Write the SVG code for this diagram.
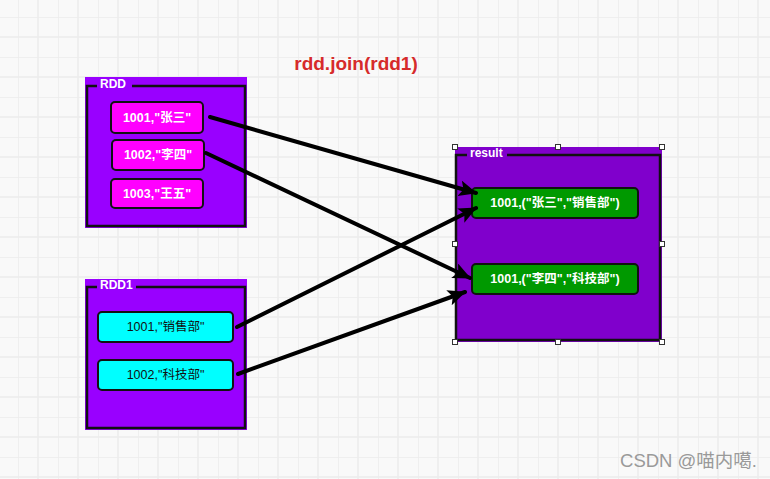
<svg xmlns="http://www.w3.org/2000/svg" width="770" height="479" viewBox="0 0 770 479">
<defs>
<pattern id="grid" x="18" y="17" width="40" height="40" patternUnits="userSpaceOnUse">
<path d="M0 0V40M20 0V40M0 0H40M0 20H40" stroke="#ececec" stroke-width="1.5" fill="none"/>
</pattern>
<marker id="ah" markerUnits="userSpaceOnUse" markerWidth="20" markerHeight="18" refX="17" refY="8" orient="auto">
<path d="M0 0L18 8L0 16L4 8Z" fill="#000"/>
</marker>
<style>
.frame{stroke:#111;stroke-width:2.5;fill:none}
.cap{font-family:"Liberation Sans",Arial,sans-serif;font-weight:bold;font-size:12px;fill:#fff}
.n{stroke:#111;stroke-width:2}
.t{font-family:"Liberation Sans","Noto Sans CJK SC",sans-serif;font-size:12.5px;text-anchor:middle;dominant-baseline:central}
.w{fill:#fff;font-weight:bold}
.k{fill:#111}
.edge{stroke:#000;stroke-width:4;fill:none;marker-end:url(#ah);stroke-linecap:round}
.h{fill:#fff;stroke:#333;stroke-width:1}
</style>
</defs>
<rect width="770" height="479" fill="#f9f9f9"/>
<rect width="770" height="479" fill="url(#grid)"/>

<text x="356" y="70" font-family="Liberation Sans,Arial,sans-serif" font-weight="bold" font-size="19" fill="#d62b2b" text-anchor="middle">rdd.join(rdd1)</text>

<g id="RDD">
<rect x="85" y="77" width="162" height="151" fill="#9900ff"/>
<path class="frame" d="M97 86H87V226H245V86H132"/>
<text class="cap" x="100" y="88">RDD</text>
</g>
<g id="rdd-1001">
<rect class="n" x="111" y="102" width="92" height="31" rx="4" fill="#ff00ff"/>
<text class="t w" x="157" y="117.5">1001,"张三"</text>
</g>
<g id="rdd-1002">
<rect class="n" x="112" y="140" width="92" height="30" rx="4" fill="#ff00ff"/>
<text class="t w" x="158" y="155">1002,"李四"</text>
</g>
<g id="rdd-1003">
<rect class="n" x="111" y="179" width="92" height="29" rx="4" fill="#ff00ff"/>
<text class="t w" x="157" y="193.5">1003,"王五"</text>
</g>

<g id="RDD1">
<rect x="85" y="279" width="162" height="151" fill="#9900ff"/>
<path class="frame" d="M97 287H87V428H245V287H136"/>
<text class="cap" x="100" y="289">RDD1</text>
</g>
<g id="rdd1-1001">
<rect class="n" x="98" y="312" width="135" height="30" rx="4" fill="#00ffff"/>
<text class="t k" x="165.5" y="327">1001,"销售部"</text>
</g>
<g id="rdd1-1002">
<rect class="n" x="98" y="360" width="135" height="30" rx="4" fill="#00ffff"/>
<text class="t k" x="165.5" y="375">1002,"科技部"</text>
</g>

<g id="result">
<rect x="455" y="147" width="207" height="195" fill="#8000cc"/>
<path class="frame" d="M467 155H456V340H660V155H507" stroke="#1a0a0a"/>
<text class="cap" x="470" y="157">result</text>
<rect class="h" x="452.5" y="144.5" width="5" height="5"/>
<rect class="h" x="555.5" y="144.5" width="5" height="5"/>
<rect class="h" x="659.5" y="144.5" width="5" height="5"/>
<rect class="h" x="452.5" y="241.5" width="5" height="5"/>
<rect class="h" x="659.5" y="241.5" width="5" height="5"/>
<rect class="h" x="452.5" y="339.5" width="5" height="5"/>
<rect class="h" x="555.5" y="339.5" width="5" height="5"/>
<rect class="h" x="659.5" y="339.5" width="5" height="5"/>
</g>
<g id="res-1">
<rect class="n" x="472" y="188" width="166" height="30" rx="4" fill="#009900"/>
<text class="t w" x="555" y="203">1001,("张三","销售部")</text>
</g>
<g id="res-2">
<rect class="n" x="472" y="264" width="166" height="30" rx="4" fill="#009900"/>
<text class="t w" x="555" y="279">1001,("李四","科技部")</text>
</g>

<g id="connectors">
<path class="edge" d="M210 117L476 193"/>
<path class="edge" d="M206 153L470 278"/>
<path class="edge" d="M237 327L476 208"/>
<path class="edge" d="M238 374L465 292"/>
</g>

<text x="757" y="467" font-family="Liberation Sans,'Noto Sans CJK SC',sans-serif" font-size="18.5" fill="#9a9a9a" text-anchor="end">CSDN @喵内噶.</text>
</svg>
